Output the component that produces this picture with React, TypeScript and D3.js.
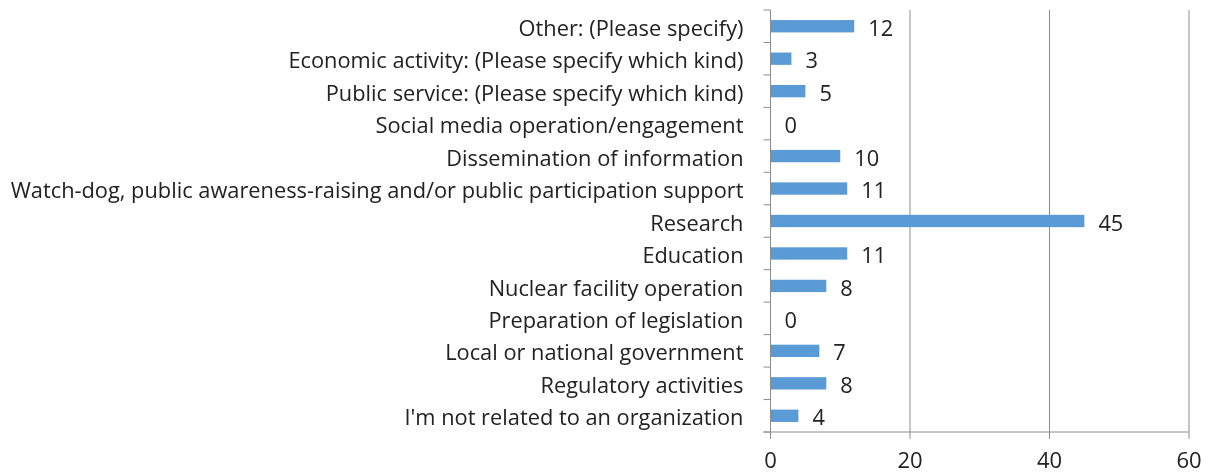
import { useEffect, useRef } from "react";
import * as d3 from "d3";

const categories = [
  "Other: (Please specify)",
  "Economic activity: (Please specify which kind)",
  "Public service: (Please specify which kind)",
  "Social media operation/engagement",
  "Dissemination of information",
  "Watch-dog, public awareness-raising and/or public participation support",
  "Research",
  "Education",
  "Nuclear facility operation",
  "Preparation of legislation",
  "Local or national government",
  "Regulatory activities",
  "I'm not related to an organization",
];

const values = [12, 3, 5, 0, 10, 11, 45, 11, 8, 0, 7, 8, 4];

const xTicks = [0, 20, 40, 60];

export default function App() {
  const svgRef = useRef<SVGSVGElement | null>(null);

  useEffect(() => {
    if (!svgRef.current) return;

    const width = 1210;
    const height = 475;
    const margin = { top: 10, right: 21, bottom: 43, left: 770.5 };
    const innerW = width - margin.left - margin.right;
    const innerH = height - margin.top - margin.bottom;

    d3.select(svgRef.current).selectAll("*").remove();

    const svg = d3
      .select(svgRef.current)
      .attr("width", width)
      .attr("height", height)
      .style("font-family", "'Open Sans', 'Noto Sans', sans-serif");

    const g = svg
      .append("g")
      .attr("transform", `translate(${margin.left},${margin.top})`);

    const x = d3.scaleLinear().domain([0, 60]).range([0, innerW]);

    const y = d3
      .scaleBand()
      .domain(categories)
      .range([0, innerH])
      .paddingInner(0.62)
      .paddingOuter(0.31);

    const axisColor = "#8c8c8c";

    // Gridlines
    g.selectAll("line.grid")
      .data(xTicks.filter((t) => t > 0))
      .enter()
      .append("line")
      .attr("class", "grid")
      .attr("x1", (d) => x(d))
      .attr("x2", (d) => x(d))
      .attr("y1", 0)
      .attr("y2", innerH)
      .attr("stroke", axisColor)
      .attr("stroke-width", 1);

    // Bars
    g.selectAll("rect.bar")
      .data(categories)
      .enter()
      .append("rect")
      .attr("class", "bar")
      .attr("x", 0)
      .attr("y", (d) => y(d)!)
      .attr("width", (_, i) => x(values[i]))
      .attr("height", y.bandwidth())
      .attr("fill", "#5b9bd5");

    // Value labels
    g.selectAll("text.val")
      .data(categories)
      .enter()
      .append("text")
      .attr("class", "val")
      .attr("x", (_, i) => x(values[i]) + 14)
      .attr("y", (d) => y(d)! + y.bandwidth() / 2)
      .attr("dy", "0.44em")
      .attr("font-size", 21.8)
      .attr("fill", "#222")
      .text((_, i) => String(values[i]));

    // Left axis with category boundary ticks
    const boundaries = d3
      .range(categories.length + 1)
      .map((i) => i * (innerH / categories.length));
    g.append("line")
      .attr("x1", 0)
      .attr("x2", 0)
      .attr("y1", 0)
      .attr("y2", innerH)
      .attr("stroke", axisColor);
    g.selectAll("line.ytick")
      .data(boundaries)
      .enter()
      .append("line")
      .attr("class", "ytick")
      .attr("x1", -7)
      .attr("x2", 0)
      .attr("y1", (d) => d)
      .attr("y2", (d) => d)
      .attr("stroke", axisColor);

    // Category labels
    g.selectAll("text.cat")
      .data(categories)
      .enter()
      .append("text")
      .attr("class", "cat")
      .attr("x", -27)
      .attr("y", (d) => y(d)! + y.bandwidth() / 2)
      .attr("dy", "0.44em")
      .attr("text-anchor", "end")
      .attr("font-size", 21.8)
      .attr("fill", "#222")
      .text((d) => d);

    // Bottom axis
    g.append("line")
      .attr("x1", -7)
      .attr("x2", innerW)
      .attr("y1", innerH)
      .attr("y2", innerH)
      .attr("stroke", axisColor);
    g.selectAll("line.xtick")
      .data(xTicks)
      .enter()
      .append("line")
      .attr("class", "xtick")
      .attr("x1", (d) => x(d))
      .attr("x2", (d) => x(d))
      .attr("y1", innerH)
      .attr("y2", innerH + 7)
      .attr("stroke", axisColor);
    g.selectAll("text.xlab")
      .data(xTicks)
      .enter()
      .append("text")
      .attr("class", "xlab")
      .attr("x", (d) => x(d))
      .attr("y", innerH + 36)
      .attr("text-anchor", "middle")
      .attr("font-size", 22)
      .attr("fill", "#222")
      .text((d) => String(d));
  }, []);

  return (
    <svg
      ref={svgRef}
      style={{ position: "fixed", top: 0, left: 0, display: "block" }}
    />
  );
}
